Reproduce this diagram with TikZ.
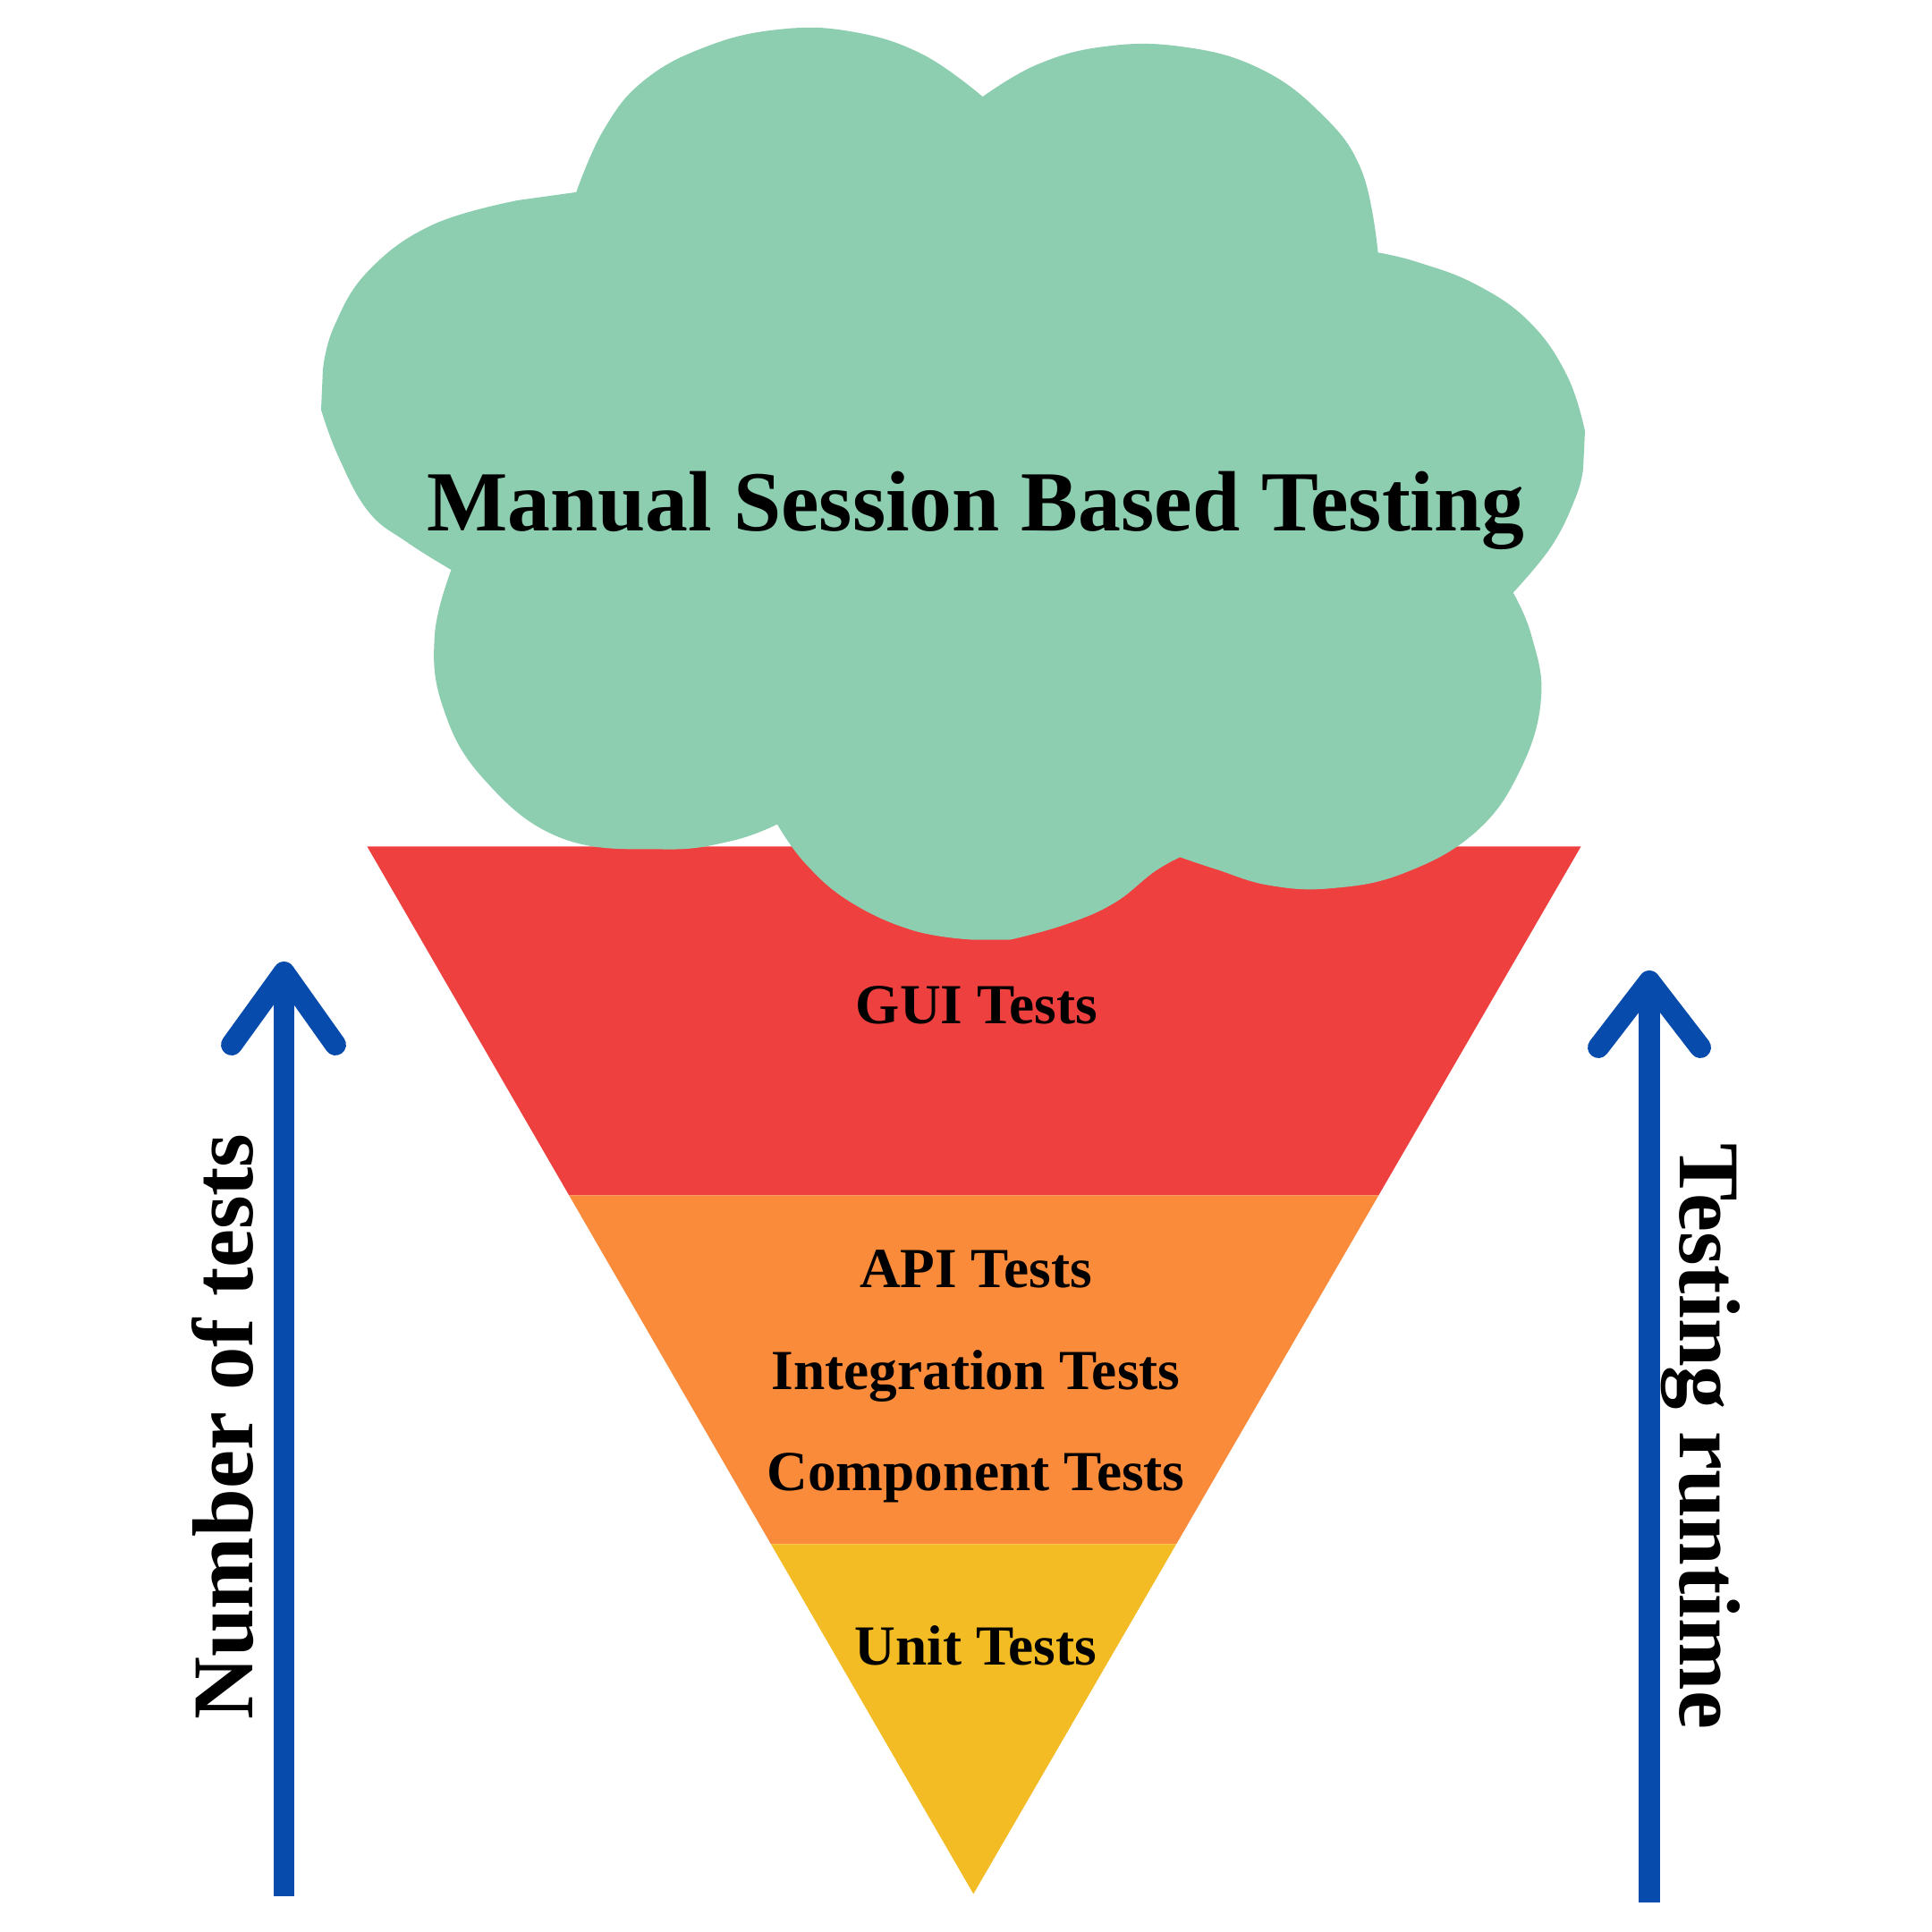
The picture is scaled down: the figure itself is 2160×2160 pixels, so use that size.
\documentclass[tikz,border=0pt]{standalone}
\usepackage{fontspec}
\setmainfont{Liberation Serif}
\usetikzlibrary{calc}
\definecolor{cloudgreen}{HTML}{8DCDB0}
\definecolor{bandred}{HTML}{EF4040}
\definecolor{bandorange}{HTML}{F98B3B}
\definecolor{bandyellow}{HTML}{F3BC24}
\definecolor{arrowblue}{HTML}{074BAC}
\begin{document}
\begin{tikzpicture}[x=0.01cm,y=-0.01cm,
  lbl/.style={font=\bfseries\fontsize{18}{20}\selectfont, anchor=base, inner sep=0pt},
  titletext/.style={font=\bfseries\fontsize{27.2}{30}\selectfont, anchor=base, inner sep=0pt},
  sidetext/.style={font=\bfseries\fontsize{27.5}{30}\selectfont, anchor=base, inner sep=0pt},
  arrowline/.style={draw=arrowblue, line width=6.8pt},
  tip/.style={arrowline, line cap=round, line join=round},
  lobe/.style={smooth, tension=0.7}]
\useasboundingbox (0,0) rectangle (2160,2160);
\fill[white] (0,0) rectangle (2160,2160);

% inverted pyramid
\coordinate (tl) at (410.5,946.4);
\coordinate (tr) at (1767.5,946.4);
\coordinate (ap) at (1088.3,2117.4);
\coordinate (l1) at ($(tl)!0.333!(ap)$);
\coordinate (r1) at ($(tr)!0.333!(ap)$);
\coordinate (l2) at ($(tl)!0.666!(ap)$);
\coordinate (r2) at ($(tr)!0.666!(ap)$);
\fill[bandred] (tl) -- (tr) -- (r1) -- (l1) -- cycle;
\fill[bandorange] (l1) -- (r1) -- (r2) -- (l2) -- cycle;
\fill[bandyellow] (l2) -- (r2) -- (ap) -- cycle;

% cloud
\fill[cloudgreen]
  plot[lobe] coordinates {(1098.6,108.1) (1030,60) (950,35) (870,33) (790,52) (720,90) (675,145) (644.2,214.9)}
  -- (579.2,223.9)
  -- plot[lobe] coordinates {(579.2,223.9) (483.5,251.4) (411.7,303) (373.5,365) (361,413)}
  -- (359,458)
  -- plot[lobe] coordinates {(359,458) (378,509.7) (411.7,571.7) (454.8,606) (504.5,637.1)}
  -- plot[lobe] coordinates {(504.5,637.1) (486,710) (495,790) (540,870) (627,936.7) (741.8,949.5) (818.3,940) (869,921.5)}
  -- plot[lobe] coordinates {(869,921.5) (900,965) (950,1008) (1020,1040) (1085.4,1050.5)}
  -- (1130,1050.5)
  -- plot[lobe] coordinates {(1130,1050.5) (1190,1034) (1245,1010) (1290,975) (1319.3,958.3)}
  -- plot[lobe] coordinates {(1319.3,958.3) (1360,972) (1420,990) (1490,993) (1570,976) (1650,930) (1700,860) (1723,780) (1712,710) (1691.7,662.6)}
  -- plot[lobe] coordinates {(1691.7,662.6) (1735,610) (1762,555) (1770,523.5)}
  -- (1772,482)
  -- plot[lobe] coordinates {(1772,482) (1752,420) (1710,360) (1650,318) (1583.6,292.7) (1540.6,282.4)}
  -- plot[lobe] coordinates {(1540.6,282.4) (1522,190) (1475,125) (1405,75) (1320,52) (1235,52) (1160,72) (1098.6,108.1)}
  -- cycle;

% texts
\node[titletext] (manual) at (1091,593) {Manual Session Based Testing};
\node[lbl] (gui) at (1092,1144) {GUI Tests};
\node[lbl] (api) at (1091,1439) {API Tests};
\node[lbl] (integ) at (1091,1553) {Integration Tests};
\node[lbl] (comp) at (1091,1666) {Component Tests};
\node[lbl] (unit) at (1091,1861) {Unit Tests};

% left arrow
\coordinate (lb) at (317.5,2120);
\coordinate (lt) at (317.5,1087);
\coordinate (lha) at (259,1168);
\coordinate (lhb) at (375,1168);
\draw[arrowline] (lb) -- (lt);
\draw[tip] (lha) -- (lt) -- (lhb);

% right arrow
\coordinate (rb) at (1844,2127);
\coordinate (rt) at (1844,1097);
\coordinate (rha) at (1787,1171);
\coordinate (rhb) at (1901,1171);
\draw[arrowline] (rb) -- (rt);
\draw[tip] (rha) -- (rt) -- (rhb);

\node[sidetext, rotate=90] (ntests) at (282,1595) {Number of tests};
\node[sidetext, rotate=-90] (truntime) at (1878,1606) {Testing runtime};
\end{tikzpicture}
\end{document}
